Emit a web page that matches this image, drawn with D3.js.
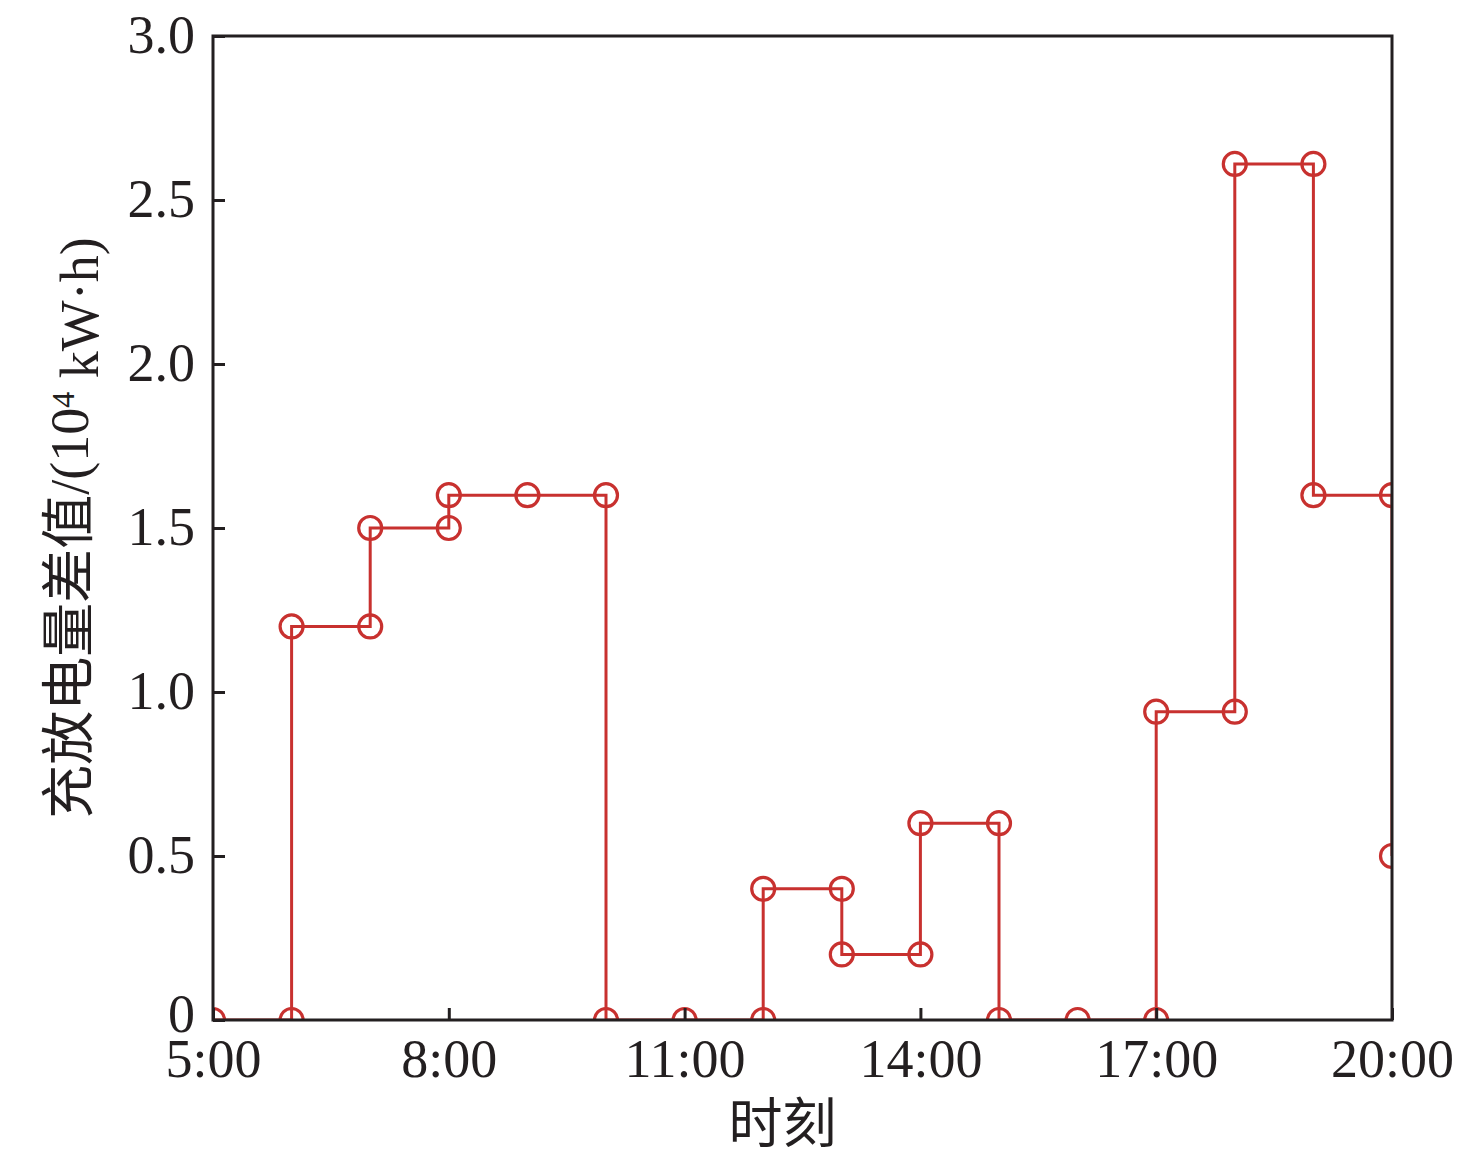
<!DOCTYPE html>
<html>
<head>
<meta charset="utf-8">
<script src="https://cdn.jsdelivr.net/npm/d3@7"></script>
<style>
  body { margin: 0; background: #fff; }
  text { font-family: "Liberation Serif", "Noto Sans CJK SC", serif; fill: #231f20; }
</style>
</head>
<body>
<div id="chart"></div>
<script>
// Données : heure / valeur (tracé en escalier)
const heures  = [5, 6, 6, 7, 7, 8, 8, 9, 10, 10, 11, 12, 12, 13, 13, 14, 14, 15, 15, 16, 17, 17, 18, 18, 19, 19, 20, 20];
const valeurs = [0, 0, 1.2, 1.2, 1.5, 1.5, 1.6, 1.6, 1.6, 0, 0, 0, 0.4, 0.4, 0.2, 0.2, 0.6, 0.6, 0, 0, 0, 0.94, 0.94, 2.61, 2.61, 1.6, 1.6, 0.5];

const xTicks = [5, 8, 11, 14, 17, 20];
const yTicks = [0, 0.5, 1.0, 1.5, 2.0, 2.5, 3.0];

const margin = { top: 36, right: 84, bottom: 147, left: 213 },
    width = 1476,
    height = 1167,
    innerW = width - margin.left - margin.right,
    innerH = height - margin.top - margin.bottom,
    rouge = "#c8312f",
    noir = "#231f20";

const svg = d3.select("#chart")
  .append("svg")
  .attr("width", width)
  .attr("height", height);

const g = svg.append("g")
  .attr("transform", `translate(${margin.left},${margin.top})`);

const x = d3.scaleLinear().domain([5, 20]).range([0, innerW]);
const y = d3.scaleLinear().domain([0, 3]).range([innerH, 0]);

g.append("clipPath").attr("id", "zone")
  .append("rect").attr("width", innerW).attr("height", innerH);

const points = heures.map((h, i) => ({ h: h, v: valeurs[i] }));

const trace = g.append("g").attr("clip-path", "url(#zone)");

trace.append("path")
  .datum(points)
  .attr("fill", "none")
  .attr("stroke", rouge)
  .attr("stroke-width", 3)
  .attr("d", d3.line().x(d => x(d.h)).y(d => y(d.v)));

trace.selectAll("circle")
  .data(points)
  .join("circle")
  .attr("cx", d => x(d.h))
  .attr("cy", d => y(d.v))
  .attr("r", 11.5)
  .attr("fill", "none")
  .attr("stroke", rouge)
  .attr("stroke-width", 3.2);

// axes avec graduations vers l'intérieur
const axeX = g.append("g")
  .attr("transform", `translate(0,${innerH})`)
  .call(d3.axisBottom(x).tickValues(xTicks).tickSize(-12).tickPadding(20)
    .tickFormat(d => d + ":00"));

const axeY = g.append("g")
  .call(d3.axisLeft(y).tickValues(yTicks).tickSize(-12).tickPadding(18)
    .tickFormat(d => d === 0 ? "0" : d3.format(".1f")(d)));

[axeX, axeY].forEach(a => {
  a.select(".domain").remove();
  a.selectAll(".tick line").attr("stroke", noir).attr("stroke-width", 3);
  a.selectAll(".tick text").style("font-size", "54px").attr("fill", noir);
});
axeX.selectAll(".tick text").attr("dy", "0.68em");
axeY.selectAll(".tick text").attr("dy", d => d === 0 ? "0.22em" : "0.3em");

// cadre
g.append("rect")
  .attr("width", innerW)
  .attr("height", innerH)
  .attr("fill", "none")
  .attr("stroke", noir)
  .attr("stroke-width", 3);

// titres des axes
svg.append("text")
  .attr("x", margin.left + innerW / 2 - 20)
  .attr("y", 1143)
  .attr("text-anchor", "middle")
  .style("font-size", "54px")
  .text("时刻");

const titreY = svg.append("text")
  .attr("transform", "translate(88,528) rotate(-90)")
  .attr("text-anchor", "middle")
  .style("font-size", "54px");
titreY.append("tspan").text("充放电量差值/(10");
titreY.append("tspan").attr("dy", "-0.45em").style("font-size", "32px").text("4");
titreY.append("tspan").attr("dy", "0.45em").text(" kW·h)");
</script>
</body>
</html>
